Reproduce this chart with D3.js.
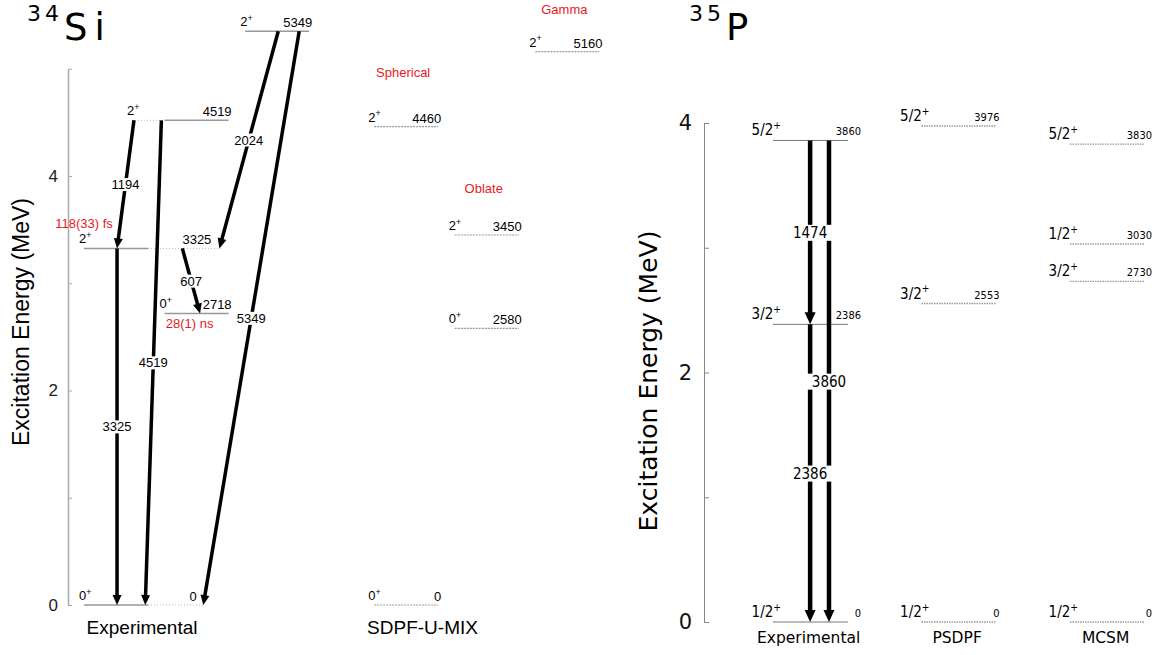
<!DOCTYPE html>
<html>
<head>
<meta charset="utf-8">
<script src="https://cdn.jsdelivr.net/npm/d3@7"></script>
<style>
	body { margin: 0; background: #fff; }
	svg { display: block; }
</style>
</head>
<body>
<svg id="chart" width="1169" height="655"></svg>
<script>
// ---------- 34Si data (keV) ----------
const siExpEnergies = [0, 2718, 3325, 4519, 5349];
const siExpSpins = ['0', '0', '2', '2', '2'];
const siExpLifetimes = [null, '28(1) ns', '118(33) fs', null, null];
const siThEnergies = [0, 2580, 3450, 4460, 5160];
const siThSpins = ['0', '0', '2', '2', '2'];
const siThShapes = [null, null, 'Oblate', 'Spherical', 'Gamma'];
const siGammaFrom = [4519, 3325, 4519, 5349, 3325, 5349];
const siGammaTo = [3325, 0, 0, 3325, 2718, 0];
const siGammaLabels = ['1194', '3325', '4519', '2024', '607', '5349'];
const siColumns = ['Experimental', 'SDPF-U-MIX'];
const siTicks = [0, 1, 2, 3, 4, 5];

// ---------- 35P data (keV) ----------
const pExpEnergies = [0, 2386, 3860];
const pExpSpins = ['1/2', '3/2', '5/2'];
const pPsdpfEnergies = [0, 2553, 3976];
const pPsdpfSpins = ['1/2', '3/2', '5/2'];
const pMcsmEnergies = [0, 2730, 3030, 3830];
const pMcsmSpins = ['1/2', '3/2', '1/2', '5/2'];
const pGammaFrom = [3860, 3860, 2386];
const pGammaTo = [2386, 0, 0];
const pGammaLabels = ['1474', '3860', '2386'];
const pColumns = ['Experimental', 'PSDPF', 'MCSM'];
const pTicks = [0, 1, 2, 3, 4];

// ---------- layout (lanes in units of the level-column pitch) ----------
const siExpLanes = [0, 1, 0, 1, 2];
const siExpValueAt = [1.40, null, 1.58, null, null];
const siLifetimeOffsets = [null, [25, 15], [0, -20], null, null];
const siThLanes = [3.6, 4.6, 4.6, 3.6, 5.6];
const siShapeDy = [null, null, -42, -50, -38];
const siGammaLanes = [[0.62, 0.41], [0.41, 0.41], [0.96, 0.76], [2.41, 1.68], [1.22, 1.44], [2.67, 1.48]];
const siColumnLanes = [0.72, 4.2];
const pGammaLanes = [[0.25, 0.25], [0.377, 0.377], [0.25, 0.25]];
const pValueDx = [13, 3, 7];

const svg = d3.select('#chart');
const SANS = 'Liberation Sans, Arial, sans-serif';
const DJ = 'DejaVu Sans, sans-serif';
const DJC = 'DejaVu Sans Condensed, DejaVu Sans, sans-serif';

// label with a raised parity sign
const spinText = (g, x, y, base, sup, size, family, anchor) => {
	let t = g.append('text')
		.attr('x', x).attr('y', y)
		.attr('text-anchor', anchor)
		.style('font-family', family)
		.style('font-size', size + 'px')
		.attr('fill', '#000');
	t.append('tspan').text(base);
	t.append('tspan').attr('dy', -0.42 * size).style('font-size', (0.68 * size) + 'px').text(sup);
	return t;
};

// thick gamma arrow with filled head
const arrow = (g, x0, y0, x1, y1, width, headLen, headHalf) => {
	let dx = x1 - x0, dy = y1 - y0;
	let len = Math.sqrt(dx * dx + dy * dy);
	let ux = dx / len, uy = dy / len;
	let bx = x1 - ux * headLen, by = y1 - uy * headLen;
	g.append('line')
		.attr('x1', x0).attr('y1', y0).attr('x2', bx + ux).attr('y2', by + uy)
		.attr('stroke', '#000').attr('stroke-width', width);
	g.append('path')
		.attr('d', `M${x1},${y1}L${bx - uy * headHalf},${by + ux * headHalf}L${bx + uy * headHalf},${by - ux * headHalf}Z`)
		.attr('fill', '#000');
};

// gamma energy label on a white box
const boxLabel = (g, x, y, text, size, family, pad) => {
	let lg = g.append('g');
	let rect = lg.append('rect').attr('fill', '#fff');
	let t = lg.append('text')
		.attr('x', x).attr('y', y).attr('dy', '0.36em')
		.attr('text-anchor', 'middle')
		.style('font-family', family)
		.style('font-size', size + 'px')
		.text(text);
	let b = t.node().getBBox();
	rect.attr('x', b.x - pad).attr('y', b.y + 1).attr('width', b.width + 2 * pad).attr('height', b.height - 2);
};

// nucleus title: mass number as a raised prefix
const title = (g, x, mass, sym) => {
	g.append('text').attr('x', x).attr('y', 21)
		.style('font-family', DJ).style('font-size', '22px').attr('letter-spacing', '4px')
		.text(mass);
	g.append('text').attr('x', x + 37).attr('y', 40)
		.style('font-family', DJ).style('font-size', '37px').attr('letter-spacing', '7px')
		.text(sym);
};

// =================== 34Si ===================
const siY = d3.scaleLinear().domain([0, 5]).range([605, 68.75]);
const siX = d3.scaleLinear().domain([0, 1]).range([84, 164.6]);
const siLineLen = 64;
const si = svg.append('g');

// y axis
si.append('g')
	.attr('transform', 'translate(68,0)')
	.call(d3.axisLeft(siY).tickValues(siTicks)
		.tickFormat((d) => d % 2 === 0 ? d : '')
		.tickSizeInner(-4).tickSizeOuter(0).tickPadding(10))
	.call((g) => {
		g.select('.domain').attr('stroke', '#aaa').attr('stroke-width', 1.5);
		g.selectAll('.tick line').attr('stroke', '#aaa');
		g.selectAll('.tick text').style('font-family', SANS).style('font-size', '17px').attr('fill', '#222');
	});

si.append('text')
	.attr('transform', 'translate(29,322) rotate(-90)')
	.attr('text-anchor', 'middle')
	.style('font-family', SANS).style('font-size', '23px')
	.text('Excitation Energy (MeV)');

title(si, 27, '34', 'Si');

// gamma endpoints
const siGammaPts = siGammaFrom.map((f, i) => ({
	x0: siX(siGammaLanes[i][0]), y0: siY(f / 1000),
	x1: siX(siGammaLanes[i][1]), y1: siY(siGammaTo[i] / 1000),
	from: f, to: siGammaTo[i], label: siGammaLabels[i]
}));

// experimental levels
siExpEnergies.forEach((e, i) => {
	let y = siY(e / 1000);
	let xs = siX(siExpLanes[i]);
	let xe = xs + siLineLen;
	let ends = [];
	siGammaPts.forEach((p) => {
		if (p.from === e) ends.push(p.x0);
		if (p.to === e) ends.push(p.x1);
	});
	let lo = Math.min(xs, d3.min(ends) - 2), hi = Math.max(xe, d3.max(ends) + 2);
	if (lo < xs) si.append('line').attr('x1', lo).attr('x2', xs).attr('y1', y).attr('y2', y)
		.attr('stroke', '#bbb').attr('stroke-width', 1).attr('stroke-dasharray', '1,2');
	if (hi > xe) si.append('line').attr('x1', xe).attr('x2', hi).attr('y1', y).attr('y2', y)
		.attr('stroke', '#bbb').attr('stroke-width', 1).attr('stroke-dasharray', '1,2');
	si.append('line').attr('x1', xs).attr('x2', xe).attr('y1', y).attr('y2', y)
		.attr('stroke', '#999').attr('stroke-width', 1.5);

	spinText(si, lo - 5, y - 5, siExpSpins[i], '+', 13, SANS, 'start');
	let vx = siExpValueAt[i] !== null ? siX(siExpValueAt[i]) : xe + 3;
	si.append('text').attr('x', vx).attr('y', y - 4).attr('text-anchor', 'end')
		.style('font-family', SANS).style('font-size', '13px').text(e);
	if (siExpLifetimes[i]) {
		let o = siLifetimeOffsets[i];
		si.append('text').attr('x', xs + o[0]).attr('y', y + o[1]).attr('text-anchor', 'middle')
			.style('font-family', SANS).style('font-size', '13px').attr('fill', '#e8191f')
			.text(siExpLifetimes[i]);
	}
});

// theory levels
siThEnergies.forEach((e, i) => {
	let y = siY(e / 1000);
	let xs = siX(siThLanes[i]);
	let xe = xs + siLineLen;
	si.append('line').attr('x1', xs).attr('x2', xe).attr('y1', y).attr('y2', y)
		.attr('stroke', '#999').attr('stroke-width', 1.2).attr('stroke-dasharray', '2,1');
	spinText(si, xs - 6, y - 5, siThSpins[i], '+', 13, SANS, 'start');
	si.append('text').attr('x', xe + 3).attr('y', y - 4).attr('text-anchor', 'end')
		.style('font-family', SANS).style('font-size', '13px').text(e);
	if (siThShapes[i]) {
		si.append('text').attr('x', (xs + xe) / 2 - 3).attr('y', y + siShapeDy[i]).attr('text-anchor', 'middle')
			.style('font-family', SANS).style('font-size', '13px').attr('fill', '#e8191f')
			.text(siThShapes[i]);
	}
});

// gammas
siGammaPts.forEach((p) => {
	arrow(si, p.x0, p.y0, p.x1, p.y1, 3.5, 10, 4.5);
});
siGammaPts.forEach((p) => {
	boxLabel(si, (p.x0 + p.x1) / 2, (p.y0 + p.y1) / 2, p.label, 13, SANS, 1);
});

siColumns.forEach((c, i) => {
	si.append('text').attr('x', siX(siColumnLanes[i])).attr('y', 634).attr('text-anchor', 'middle')
		.style('font-family', SANS).style('font-size', '19px').text(c);
});

// =================== 35P ===================
const pY = d3.scaleLinear().domain([0, 4]).range([622, 123]);
const pX = d3.scaleLinear().domain([0, 1]).range([773, 921.5]);
const pLineLen = 75;
const ph = svg.append('g');

ph.append('g')
	.attr('transform', 'translate(704,0)')
	.call(d3.axisLeft(pY).tickValues(pTicks)
		.tickFormat((d) => d % 2 === 0 ? d : '')
		.tickSizeInner(-5).tickSizeOuter(0).tickPadding(12))
	.call((g) => {
		g.select('.domain').attr('stroke', '#888').attr('stroke-width', 1);
		g.selectAll('.tick line').attr('stroke', '#888');
		g.selectAll('.tick text').style('font-family', DJ).style('font-size', '21px').attr('fill', '#111');
	});

ph.append('text')
	.attr('transform', 'translate(657,381) rotate(-90)')
	.attr('text-anchor', 'middle')
	.style('font-family', DJ).style('font-size', '25px')
	.text('Excitation Energy (MeV)');

title(ph, 689, '35', 'P');

const pSets = [
	{ energies: pExpEnergies, spins: pExpSpins, dash: null, color: '#777' },
	{ energies: pPsdpfEnergies, spins: pPsdpfSpins, dash: '1.5,1', color: '#999' },
	{ energies: pMcsmEnergies, spins: pMcsmSpins, dash: '1.5,1', color: '#999' }
];

pSets.forEach((set, c) => {
	let xs = pX(c);
	let xe = xs + pLineLen;
	set.energies.forEach((e, i) => {
		let y = pY(e / 1000);
		let ln = ph.append('line').attr('x1', xs).attr('x2', xe).attr('y1', y).attr('y2', y)
			.attr('stroke', set.color).attr('stroke-width', set.dash ? 1.3 : 1);
		if (set.dash) ln.attr('stroke-dasharray', set.dash);
		spinText(ph, xs + 8, y - 5, set.spins[i], '+', 15, DJC, 'end');
		ph.append('text').attr('x', xe + pValueDx[c]).attr('y', y - 5).attr('text-anchor', 'end')
			.style('font-family', DJC).style('font-size', '11px').text(e);
	});
	ph.append('text').attr('x', xs + 0.24 * (pX(1) - pX(0))).attr('y', 643).attr('text-anchor', 'middle')
		.style('font-family', DJ).style('font-size', '15.5px').text(pColumns[c]);
});

const pGammaPts = pGammaFrom.map((f, i) => ({
	x0: pX(pGammaLanes[i][0]), y0: pY(f / 1000),
	x1: pX(pGammaLanes[i][1]), y1: pY(pGammaTo[i] / 1000),
	label: pGammaLabels[i]
}));
pGammaPts.forEach((p) => {
	arrow(ph, p.x0, p.y0, p.x1, p.y1, 4.5, 12, 5.5);
});
pGammaPts.forEach((p) => {
	boxLabel(ph, (p.x0 + p.x1) / 2, (p.y0 + p.y1) / 2, p.label, 15, DJC, 5);
});
</script>
</body>
</html>
